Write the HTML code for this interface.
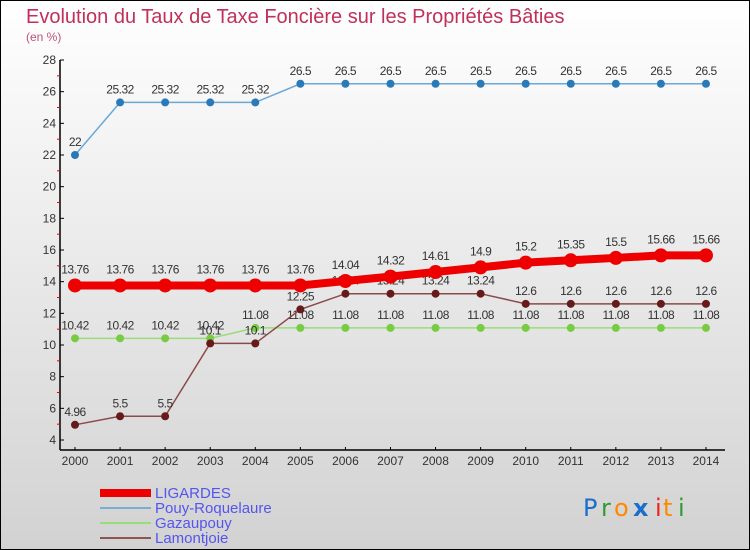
<!DOCTYPE html>
<html><head><meta charset="utf-8"><style>
body{margin:0}
svg{display:block;font-family:"Liberation Sans",sans-serif}
</style></head><body>
<svg id="c" width="750" height="550" viewBox="0 0 750 550">
<defs><linearGradient id="bg" x1="0" y1="0" x2="0" y2="1"><stop offset="0" stop-color="#ffffff"/><stop offset="1" stop-color="#d2d2d2"/></linearGradient></defs>
<rect x="0.5" y="0.5" width="749" height="549" fill="url(#bg)" stroke="#000"/>
<text x="26" y="23" font-size="20" fill="#c0305a">Evolution du Taux de Taxe Foncière sur les Propriétés Bâties</text>
<text x="26" y="41" font-size="12" fill="#c0507a">(en %)</text>
<g id="axes"></g>
<g id="series"></g>
<g>
<rect x="100" y="489" width="51" height="8" fill="#ee0000"/>
<text x="155" y="498" font-size="15" fill="#5555ee">LIGARDES</text>
<rect x="100" y="507" width="51" height="2" fill="#7aaed0"/>
<text x="155" y="513" font-size="15" fill="#5555ee">Pouy-Roquelaure</text>
<rect x="100" y="522" width="51" height="2" fill="#99dd77"/>
<text x="155" y="528" font-size="15" fill="#5555ee">Gazaupouy</text>
<rect x="100" y="537" width="51" height="2" fill="#8b5555"/>
<text x="155" y="543" font-size="15" fill="#5555ee">Lamontjoie</text>
</g>
<g font-size="24" font-family="'DejaVu Sans',sans-serif">
<text x="583" y="516" fill="#1a6fcc">P</text><text x="601" y="516" fill="#339933">r</text><text x="614" y="516" fill="#ff8800">o</text><text x="633" y="516" fill="#1a6fcc" font-weight="bold">x</text><text x="655" y="516" fill="#ee2222">i</text><text x="663" y="516" fill="#ff8800">t</text><text x="678" y="516" fill="#339933">i</text>
</g>
</svg>
<script>
const years=[2000,2001,2002,2003,2004,2005,2006,2007,2008,2009,2010,2011,2012,2013,2014];
const ligardes=[13.76,13.76,13.76,13.76,13.76,13.76,14.04,14.32,14.61,14.9,15.2,15.35,15.5,15.66,15.66];
const pouy=[22,25.32,25.32,25.32,25.32,26.5,26.5,26.5,26.5,26.5,26.5,26.5,26.5,26.5,26.5];
const gazaupouy=[10.42,10.42,10.42,10.42,11.08,11.08,11.08,11.08,11.08,11.08,11.08,11.08,11.08,11.08,11.08];
const lamontjoie=[4.96,5.5,5.5,10.1,10.1,12.25,13.24,13.24,13.24,13.24,12.6,12.6,12.6,12.6,12.6];
const yTicks=[4,6,8,10,12,14,16,18,20,22,24,26,28];
const NS="http://www.w3.org/2000/svg";
const X=i=>75+i*45.07;
const Y=v=>440-(v-4)*(380/24);
function mk(tag,attrs,parent){const e=document.createElementNS(NS,tag);for(const k in attrs)e.setAttribute(k,attrs[k]);parent.appendChild(e);return e;}
const ax=document.getElementById('axes');
let l=mk('line',{x1:60,y1:60,x2:60,y2:450,stroke:'#000','stroke-width':1.5},ax);


l=mk('line',{x1:60,y1:450,x2:725,y2:450,stroke:'#000','stroke-width':1.5},ax);


yTicks.forEach(t=>{
 mk('line',{x1:60,y1:Y(t),x2:64,y2:Y(t),stroke:'#000'},ax);
 if(t<28)mk('line',{x1:57,y1:Y(t+1),x2:60,y2:Y(t+1),stroke:'#e00'},ax);
 const tx=mk('text',{x:56,y:Y(t)+4,'font-size':12,fill:'#333','text-anchor':'end'},ax);
 tx.textContent=t;
 
 
});
years.forEach((yr,i)=>{
 mk('line',{x1:X(i),y1:447,x2:X(i),y2:450,stroke:'#000'},ax);
 const tx=mk('text',{x:X(i),y:465,'font-size':12,fill:'#333','text-anchor':'middle'},ax);
 tx.textContent=yr;
 
 
});
const sg=document.getElementById('series');
function draw(vals,name,color,lw,r,dot,off){
 const g=mk('g',{},sg);
 
 
 mk('polyline',{points:vals.map((v,i)=>X(i)+','+Y(v)).join(' '),fill:'none',stroke:color,'stroke-width':lw},g);
 vals.forEach((v,i)=>{
  const c=mk('circle',{cx:X(i),cy:Y(v),r:r,fill:dot},g);
  
  
  const t=mk('text',{x:X(i),y:Y(v)-off,'font-size':12,fill:'#333','text-anchor':'middle','letter-spacing':'-0.5'},g);
  t.textContent=v;
  
  
 });
}
draw(pouy,'pouy','#6aa8d8',1.5,4,'#2a7ab8',9);
draw(gazaupouy,'gazaupouy','#99dd77',1.5,4,'#77cc44',9);
draw(lamontjoie,'lamontjoie','#8b4a4a',1.5,4,'#661a1a',9);
draw(ligardes,'ligardes','#ee0000',8,7,'#ee0000',12);
</script>
</body></html>
